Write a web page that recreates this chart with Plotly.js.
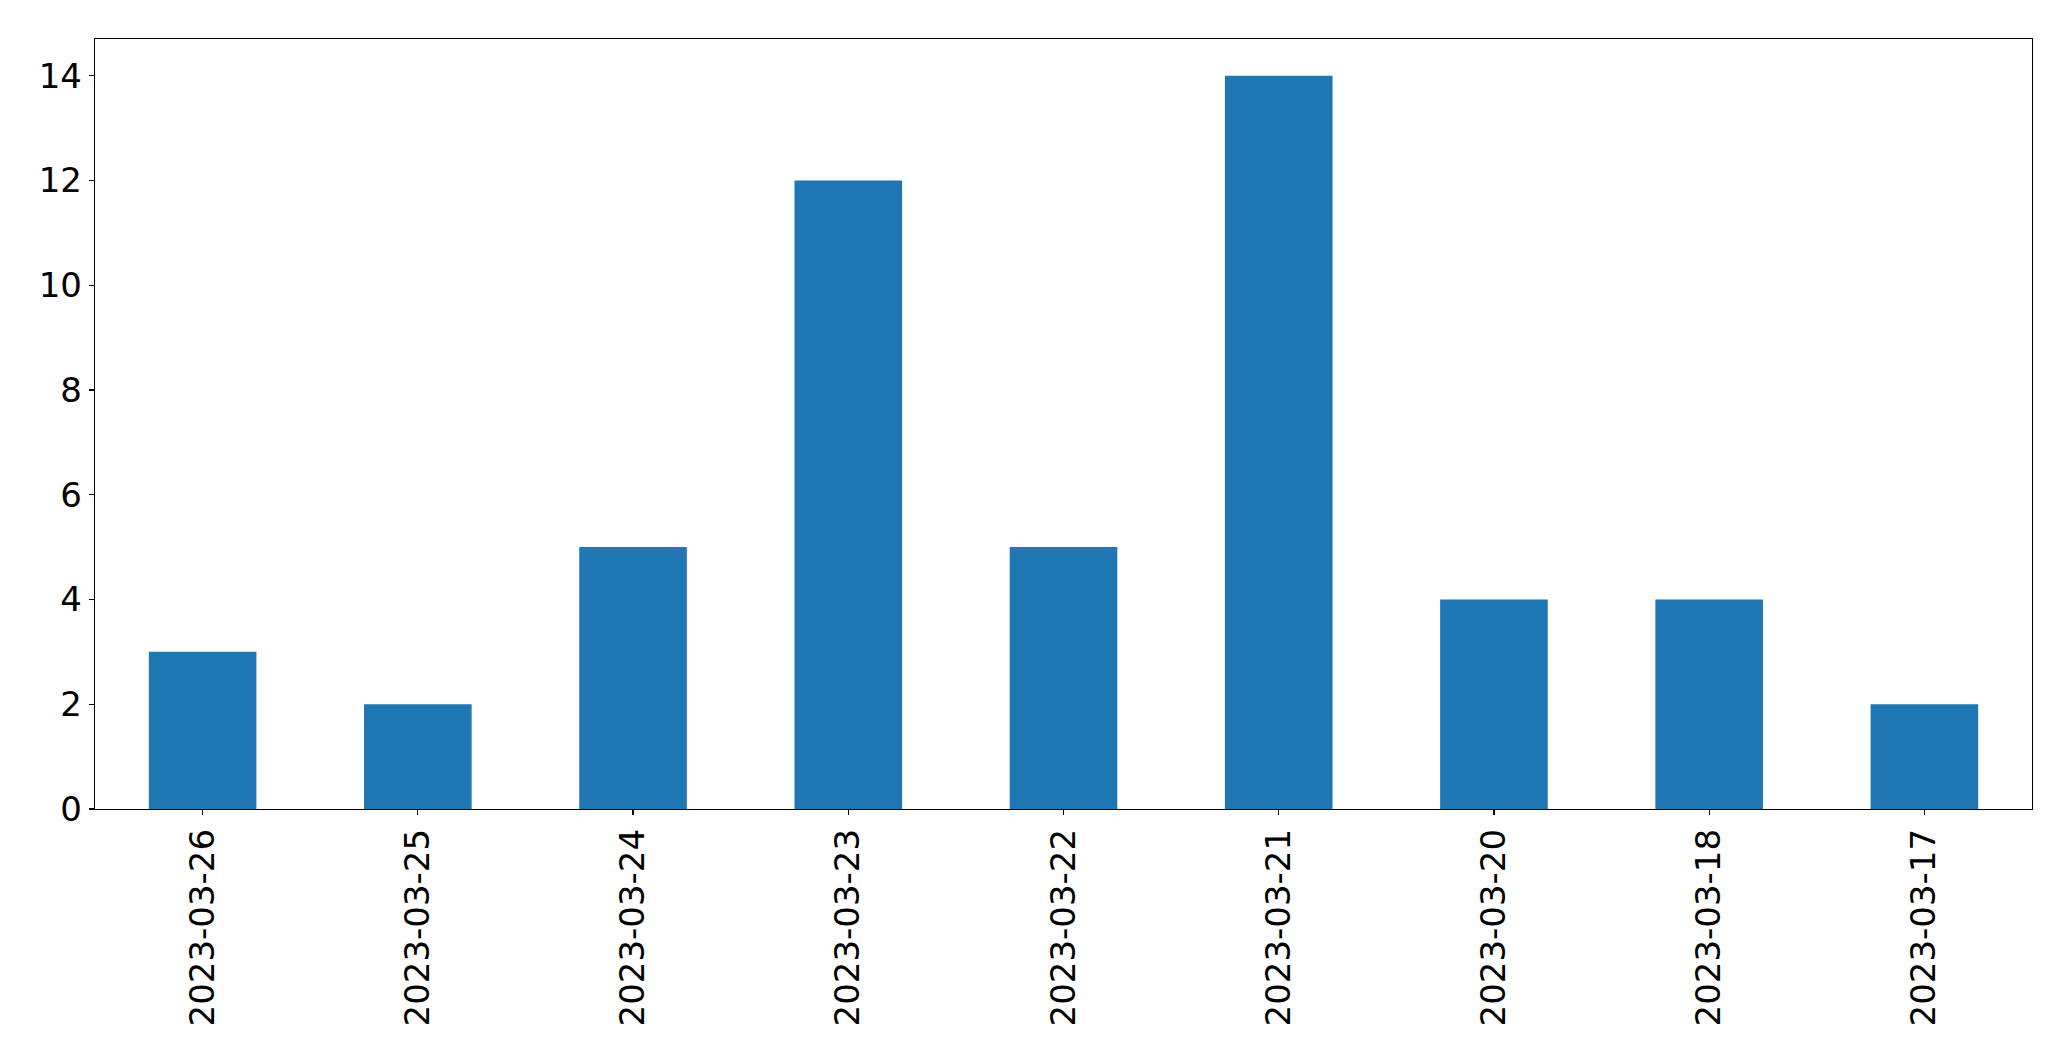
<!DOCTYPE html>
<html>
<head>
<meta charset="utf-8">
<script src="https://cdn.plot.ly/plotly-3.0.1.min.js"></script>
<style>html,body{margin:0;padding:0;background:#fff;}</style>
</head>
<body>
<div id="chart" style="width:2071px;height:1061px;"></div>
<script>
const dates = ["2023-03-26","2023-03-25","2023-03-24","2023-03-23","2023-03-22","2023-03-21","2023-03-20","2023-03-18","2023-03-17"];
const counts = [3, 2, 5, 12, 5, 14, 4, 4, 2];
const yTicks = [0, 2, 4, 6, 8, 10, 12, 14];

const trace = {
  type: "bar",
  x: dates,
  y: counts,
  marker: {color: "#1f77b4", line: {width: 0}},
  width: 0.5,
  hoverinfo: "x+y"
};

const layout = {
  width: 2071,
  height: 1061,
  margin: {l: 95, r: 39, t: 39, b: 252, pad: 0},
  paper_bgcolor: "#ffffff",
  plot_bgcolor: "#ffffff",
  font: {family: "DejaVu Sans", size: 34, color: "#000"},
  showlegend: false,
  xaxis: {
    type: "category",
    range: [-0.5, 8.5],
    tickangle: -90,
    ticks: "outside",
    ticklen: 5,
    tickwidth: 1.3,
    tickcolor: "#000",
    showline: true,
    linecolor: "#000",
    linewidth: 1.3,
    mirror: true,
    showgrid: false,
    zeroline: false,
    tickfont: {family: "DejaVu Sans", size: 34, color: "#000"}
  },
  yaxis: {
    range: [0, 14.7],
    tickmode: "array",
    tickvals: yTicks,
    ticktext: yTicks.map(String),
    ticks: "outside",
    ticklen: 5,
    tickwidth: 1.3,
    tickcolor: "#000",
    showline: true,
    linecolor: "#000",
    linewidth: 1.3,
    mirror: true,
    showgrid: false,
    zeroline: false,
    tickfont: {family: "DejaVu Sans", size: 34, color: "#000"}
  }
};

Plotly.newPlot("chart", [trace], layout, {displayModeBar: false, staticPlot: true});
</script>
</body>
</html>
